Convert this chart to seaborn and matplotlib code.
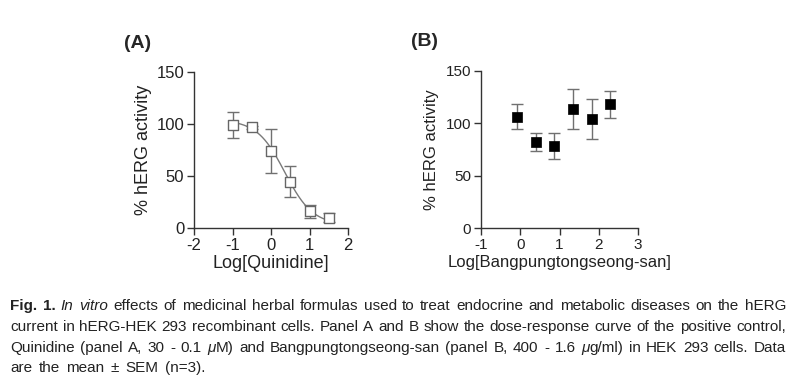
import re

import numpy as np
import pandas as pd
import matplotlib
matplotlib.use("Agg")
import matplotlib.pyplot as plt
from matplotlib.transforms import IdentityTransform
import seaborn as sns

# panel A - quinidine (log concentration, mean % activity, SEM)
quin_logc = [-1.0, -0.5, 0.0, 0.5, 1.0, 1.5]
quin_mean = [99, 97, 74, 44.5, 16, 10]
quin_sem = [12.5, 1.5, 21.5, 15, 6.5, 4]

# fitted dose-response curve parameters
fit_top = 104
fit_bottom = 3
fit_logic50 = 0.36
fit_hill = 1.2

# panel B - Bangpungtongseong-san
bang_logc = [-0.09, 0.39, 0.86, 1.34, 1.82, 2.29]
bang_mean = [106.5, 82, 78, 113.5, 104, 118]
bang_sem = [12, 8.5, 12.5, 19, 19, 13]

xticksA = [-2, -1, 0, 1, 2]
xticksB = [-1, 0, 1, 2, 3]
yticks = [0, 50, 100, 150]

caption_lines = [
    "**Fig.** **1.** _In_ _vitro_ effects of medicinal herbal formulas used to treat endocrine and metabolic diseases on the hERG",
    "current in hERG-HEK 293 recombinant cells. Panel A and B show the dose-response curve of the positive control,",
    "Quinidine (panel A, 30 - 0.1 _\u03bc_M) and Bangpungtongseong-san (panel B, 400 - 1.6 _\u03bc_g/ml) in HEK 293 cells. Data",
    "are the mean \u00b1 SEM (n=3).",
]

sns.set_style("ticks")
plt.rcParams["font.family"] = ["Liberation Sans", "DejaVu Sans"]
plt.rcParams["axes.unicode_minus"] = False

W, H = 800, 388
fig = plt.figure(figsize=(W / 100, H / 100), dpi=100, facecolor="white")

axisColor = "#333333"
barColor = "#707070"


def styleAxis(ax, xticks, xlabel, fs, ypad):
    ax.set_xlim(xticks[0], xticks[-1])
    ax.set_ylim(0, 150)
    ax.set_xticks(xticks)
    ax.set_yticks(yticks)
    for s in ["top", "right"]:
        ax.spines[s].set_visible(False)
    for s in ["left", "bottom"]:
        ax.spines[s].set_color(axisColor)
        ax.spines[s].set_linewidth(1)
    ax.tick_params(length=5, width=1, color=axisColor, labelsize=fs, labelcolor="#222222", pad=2)
    ax.set_xlabel(xlabel, fontsize=fs + 1, color="#222222", labelpad=2)
    ax.set_ylabel("% hERG activity", fontsize=fs + 1, color="#222222", labelpad=ypad)
    ax.set_facecolor("white")
    if ax.get_legend() is not None:
        ax.get_legend().remove()


# ---- panel A
axA = fig.add_axes([194 / W, 1 - 228 / H, 154 / W, 156 / H])
curveX = np.linspace(quin_logc[0], quin_logc[-1], 200)
curveY = fit_bottom + (fit_top - fit_bottom) / (1 + 10 ** ((curveX - fit_logic50) * fit_hill))
sns.lineplot(x=curveX, y=curveY, ax=axA, color="#7a7a7a", linewidth=1, zorder=2)
axA.errorbar(quin_logc, quin_mean, yerr=quin_sem, fmt="none", ecolor=barColor,
             elinewidth=1, capsize=4, capthick=1, zorder=2, clip_on=False)
dfA = pd.DataFrame({"logc": quin_logc, "act": quin_mean})
sns.scatterplot(data=dfA, x="logc", y="act", ax=axA, marker="s", s=55, facecolor="white",
                edgecolor="#666666", linewidth=1, zorder=3, clip_on=False)
styleAxis(axA, xticksA, "Log[Quinidine]", 12, 3)

# ---- panel B
axB = fig.add_axes([481 / W, 1 - 228 / H, 157 / W, 157 / H])
axB.errorbar(bang_logc, bang_mean, yerr=bang_sem, fmt="none", ecolor=barColor,
             elinewidth=1, capsize=4, capthick=1, zorder=2, clip_on=False)
dfB = pd.DataFrame({"logc": bang_logc, "act": bang_mean})
sns.scatterplot(data=dfB, x="logc", y="act", ax=axB, marker="s", s=50, color="black",
                edgecolor="black", linewidth=0.5, zorder=3, clip_on=False)
styleAxis(axB, xticksB, "Log[Bangpungtongseong-san]", 11, 5)

# panel letters
fig.text(138 / W, 1 - 48 / H, "(A)", fontsize=14, fontweight="bold", ha="center", va="baseline")
fig.text(425 / W, 1 - 46 / H, "(B)", fontsize=14, fontweight="bold", ha="center", va="baseline")

# ---- caption, word by word so lines can be justified
capFamily = ["Liberation Sans", "DejaVu Sans"]
capSize = 11
capLeft, capRight = 10, 786
baselines = [310, 331, 352, 372]


def parseWord(word):
    segs = []
    for part in re.split(r"(\*\*.*?\*\*|_.*?_)", word):
        if not part:
            continue
        if part.startswith("**"):
            segs.append((part[2:-2], "bold", "normal"))
        elif part.startswith("_") and part.endswith("_") and len(part) > 1:
            segs.append((part[1:-1], "normal", "italic"))
        else:
            segs.append((part, "normal", "normal"))
    return segs


renderer = fig.canvas.get_renderer()
probe = fig.text(0, 0, "a a", fontsize=capSize, family=capFamily, transform=IdentityTransform())
probe2 = fig.text(0, 0, "aa", fontsize=capSize, family=capFamily, transform=IdentityTransform())
spaceW = probe.get_window_extent(renderer).width - probe2.get_window_extent(renderer).width
probe.remove()
probe2.remove()

for i, line in enumerate(caption_lines):
    words = []
    for w in line.split(" "):
        pieces = []
        for txt, wt, st in parseWord(w):
            t = fig.text(0, 0, txt, fontsize=capSize, family=capFamily, fontweight=wt,
                         fontstyle=st, color="#222222", va="baseline", ha="left",
                         transform=IdentityTransform())
            pieces.append((t, t.get_window_extent(renderer).width))
        words.append(pieces)
    total = sum(sum(p[1] for p in wd) for wd in words)
    if i < len(caption_lines) - 1:
        gap = (capRight - capLeft - total) / (len(words) - 1)
    else:
        gap = spaceW * 1.5
    x = capLeft
    yb = H - baselines[i]
    for wd in words:
        for t, wdt in wd:
            t.set_position((x, yb))
            x += wdt
        x += gap

fig.savefig("out.png", dpi=100, facecolor="white")
